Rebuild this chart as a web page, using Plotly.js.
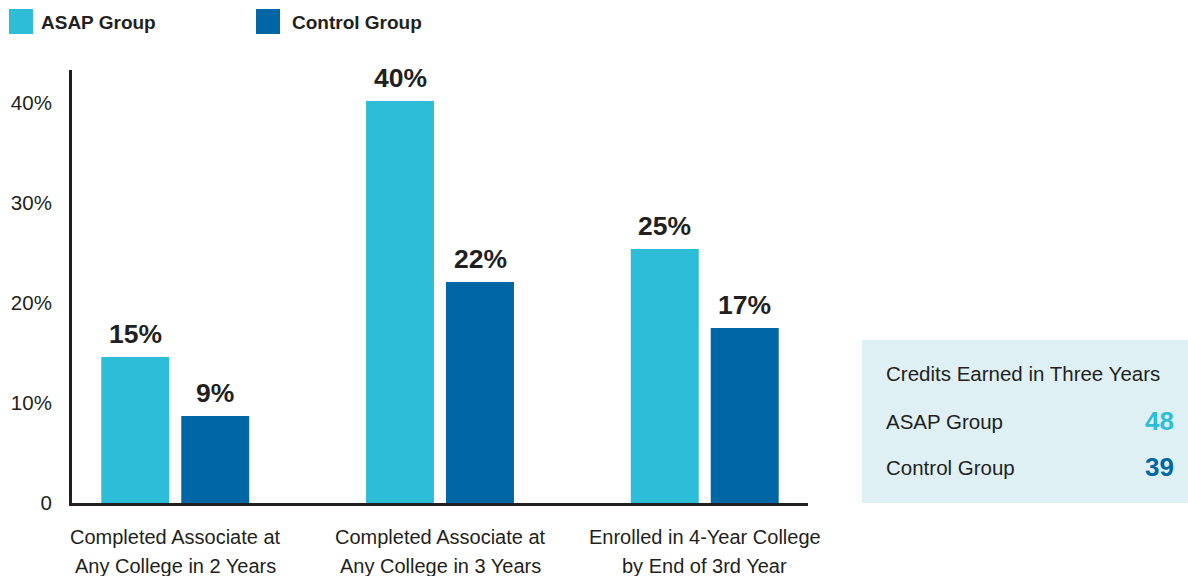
<!DOCTYPE html>
<html>
<head>
<meta charset="utf-8">
<script src="https://cdn.plot.ly/plotly-3.0.1.min.js"></script>
<style>
  html, body { margin: 0; padding: 0; background: #ffffff; }
  #chart { width: 1188px; height: 576px; }
</style>
</head>
<body>
<div id="chart"></div>
<script>
// ---- Data ----
const categories = [
  "Completed Associate at<br>Any College in 2 Years",
  "Completed Associate at<br>Any College in 3 Years",
  "Enrolled in 4-Year College<br>by End of 3rd Year"
];
const seriesNames = ["ASAP Group", "Control Group"];
const asapValues = [14.6, 40.2, 25.4];
const controlValues = [8.7, 22.1, 17.5];
const asapLabels = ["15%", "40%", "25%"];
const controlLabels = ["9%", "22%", "17%"];
const yTickVals = [0, 10, 20, 30, 40];
const yTickText = ["0", "10%", "20%", "30%", "40%"];
const creditsTitle = "Credits Earned in Three Years";
const creditsGroups = ["ASAP Group", "Control Group"];
const creditsValues = [48, 39];

// ---- Style ----
const ASAP_COLOR = "#2dbdd8";
const CONTROL_COLOR = "#0066a6";
const TEXT = "#231f20";
const FONT = "Liberation Sans, Arial, Helvetica, sans-serif";
const W = 1188, H = 576;
const M = { l: 72, r: 380, t: 70, b: 73 };
const PW = W - M.l - M.r, PH = H - M.t - M.b;
const px = x => (x - M.l) / PW;          // pixel -> paper x
const py = y => (H - M.b - y) / PH;      // pixel -> paper y

const traces = [
  { type: "bar", name: seriesNames[0], x: categories, y: asapValues,
    marker: { color: ASAP_COLOR }, hoverinfo: "skip" },
  { type: "bar", name: seriesNames[1], x: categories, y: controlValues,
    marker: { color: CONTROL_COLOR }, hoverinfo: "skip" }
];

const annotations = [];
categories.forEach((c, i) => {
  annotations.push({ x: c, y: asapValues[i], xref: "x", yref: "y", text: asapLabels[i],
    showarrow: false, xshift: -40, yshift: 6, yanchor: "bottom",
    font: { family: FONT, size: 26.5, color: TEXT, weight: 700 } });
  annotations.push({ x: c, y: controlValues[i], xref: "x", yref: "y", text: controlLabels[i],
    showarrow: false, xshift: 40, yshift: 6, yanchor: "bottom",
    font: { family: FONT, size: 26.5, color: TEXT, weight: 700 } });
  // category labels (two lines, wider line spacing than tick labels allow)
  const lines = c.split("<br>");
  const lineY = [537, 566];
  lines.forEach((ln, j) => {
    annotations.push({ x: c, xref: "x", yref: "paper", y: py(lineY[j]),
      yanchor: "middle", xanchor: "center", showarrow: false, text: ln,
      font: { family: FONT, size: 20, color: TEXT } });
  });
});

// Legend (manual)
const shapes = [];
const legendItems = [
  { name: seriesNames[0], color: ASAP_COLOR, sq: 9, tx: 39 },
  { name: seriesNames[1], color: CONTROL_COLOR, sq: 256, tx: 290 }
];
legendItems.forEach(it => {
  shapes.push({ type: "rect", xref: "paper", yref: "paper",
    x0: px(it.sq), x1: px(it.sq + 24), y0: py(34), y1: py(9),
    fillcolor: it.color, line: { width: 0 } });
  annotations.push({ xref: "paper", yref: "paper", x: px(it.tx), y: py(22),
    xanchor: "left", yanchor: "middle", showarrow: false, text: it.name,
    font: { family: FONT, size: 19, color: TEXT, weight: 700 } });
});

// Credits inset box
shapes.push({ type: "rect", xref: "paper", yref: "paper",
  x0: px(862), x1: px(1188), y0: py(503), y1: py(340),
  fillcolor: "#dff0f5", line: { width: 0 }, layer: "below" });
annotations.push({ xref: "paper", yref: "paper", x: px(884), y: py(373),
  xanchor: "left", yanchor: "middle", showarrow: false, text: creditsTitle,
  font: { family: FONT, size: 20.5, color: TEXT } });
const creditColors = [ASAP_COLOR, CONTROL_COLOR];
const rowY = [421, 467];
creditsGroups.forEach((g, i) => {
  annotations.push({ xref: "paper", yref: "paper", x: px(884), y: py(rowY[i]),
    xanchor: "left", yanchor: "middle", showarrow: false, text: g,
    font: { family: FONT, size: 20.5, color: TEXT } });
  annotations.push({ xref: "paper", yref: "paper", x: px(1176), y: py(rowY[i]),
    xanchor: "right", yanchor: "middle", showarrow: false, text: String(creditsValues[i]),
    font: { family: FONT, size: 26, color: creditColors[i], weight: 700 } });
});

const layout = {
  width: W, height: H,
  margin: M,
  paper_bgcolor: "#ffffff", plot_bgcolor: "#ffffff",
  showlegend: false,
  barmode: "group",
  bargap: 0.396,
  bargroupgap: 0.15,
  font: { family: FONT, color: TEXT },
  xaxis: {
    range: [-0.39, 2.39],
    showline: true, linecolor: TEXT, linewidth: 3,
    ticks: "", showgrid: false, zeroline: false,
    showticklabels: false,
    fixedrange: true
  },
  yaxis: {
    range: [0, 43.3],
    showline: true, linecolor: TEXT, linewidth: 3,
    ticks: "", showgrid: false, zeroline: false,
    tickvals: yTickVals, ticktext: yTickText,
    tickfont: { family: FONT, size: 20.5, color: TEXT },
    ticklabelstandoff: 13,
    fixedrange: true
  },
  shapes: shapes,
  annotations: annotations
};

Plotly.newPlot("chart", traces, layout, { displayModeBar: false, staticPlot: true });
</script>
</body>
</html>
